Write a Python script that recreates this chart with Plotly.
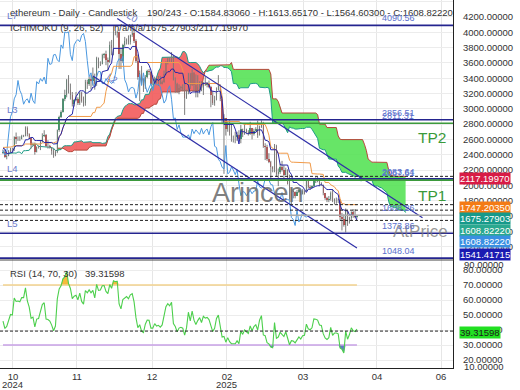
import numpy as np
import pandas as pd
import plotly.graph_objects as go

# ---------------- DATA ----------------
# Daily ETH candles. The first 48 rows (21 Aug - 7 Oct 2024) are history before the visible
# window; they only feed the Ichimoku / RSI look-back windows. Visible bars: 8 Oct 2024 - 15 Apr 2025.
aug_o = [2575, 2630, 2622, 2765, 2768, 2746, 2680, 2458, 2528, 2530, 2525]
aug_h = [2660, 2645, 2800, 2820, 2790, 2760, 2700, 2560, 2600, 2545, 2540]
aug_l = [2540, 2580, 2610, 2740, 2720, 2660, 2420, 2400, 2500, 2440, 2500]
aug_c = [2630, 2622, 2765, 2768, 2746, 2680, 2458, 2528, 2530, 2525, 2513]

sep_o = [2513, 2425, 2538, 2420, 2450, 2369, 2226, 2273, 2298, 2359, 2389, 2340, 2361, 2435, 2418,
         2316, 2296, 2340, 2375, 2465, 2560, 2612, 2581, 2646, 2653, 2580, 2632, 2696, 2678, 2658]
sep_h = [2520, 2550, 2555, 2490, 2465, 2410, 2310, 2320, 2380, 2400, 2390, 2380, 2460, 2440, 2430,
         2320, 2380, 2380, 2480, 2570, 2620, 2620, 2700, 2670, 2670, 2660, 2730, 2700, 2690, 2660]
sep_l = [2400, 2410, 2410, 2310, 2340, 2150, 2220, 2250, 2270, 2320, 2310, 2320, 2340, 2390, 2300,
         2260, 2270, 2280, 2370, 2440, 2540, 2540, 2570, 2590, 2560, 2560, 2620, 2650, 2630, 2580]
sep_c = [2425, 2538, 2420, 2450, 2369, 2226, 2273, 2298, 2359, 2389, 2340, 2361, 2435, 2418, 2316,
         2296, 2340, 2375, 2465, 2560, 2612, 2581, 2646, 2653, 2580, 2632, 2696, 2678, 2658, 2603]

oct_o = [2603, 2447, 2364, 2350, 2414, 2414, 2440, 2423, 2440, 2370, 2385, 2438, 2475, 2470, 2630, 2605,
         2610, 2605, 2645, 2645, 2750, 2665, 2620, 2525, 2535, 2440, 2505, 2510, 2570, 2640, 2660]
oct_h = [2640, 2500, 2400, 2440, 2430, 2450, 2520, 2470, 2470, 2420, 2460, 2490, 2490, 2640, 2690, 2640,
         2640, 2660, 2660, 2770, 2770, 2680, 2625, 2560, 2560, 2510, 2520, 2580, 2680, 2720, 2670]
oct_l = [2420, 2350, 2310, 2340, 2390, 2400, 2410, 2410, 2360, 2340, 2380, 2430, 2420, 2450, 2540, 2580,
         2580, 2600, 2630, 2640, 2640, 2600, 2480, 2510, 2400, 2430, 2480, 2460, 2560, 2630, 2500]
oct_c = [2447, 2364, 2350, 2414, 2414, 2440, 2423, 2440, 2370, 2385, 2438, 2475, 2470, 2630, 2605, 2610,
         2605, 2645, 2645, 2750, 2665, 2620, 2525, 2535, 2440, 2505, 2510, 2570, 2640, 2660, 2515]

nov_o = [2515, 2510, 2495, 2455, 2395, 2430, 2720, 2895, 2960, 3130, 3185, 3370, 3240, 3185, 3060,
         3110, 3130, 3075, 3205, 3105, 3070, 3355, 3325, 3395, 3360, 3415, 3325, 3660, 3580, 3590]
nov_h = [2590, 2530, 2500, 2480, 2460, 2730, 2910, 2980, 3140, 3250, 3390, 3440, 3330, 3220, 3130,
         3220, 3150, 3220, 3220, 3160, 3380, 3380, 3420, 3440, 3540, 3460, 3680, 3670, 3620, 3720]
nov_l = [2480, 2480, 2400, 2360, 2380, 2420, 2700, 2880, 2950, 3100, 3150, 3200, 3120, 3030, 3030,
         3100, 3050, 3050, 3080, 3030, 3040, 3260, 3300, 3250, 3300, 3250, 3300, 3530, 3560, 3580]
nov_c = [2510, 2495, 2455, 2395, 2430, 2720, 2895, 2960, 3130, 3185, 3370, 3240, 3185, 3060, 3110,
         3130, 3075, 3205, 3105, 3070, 3355, 3325, 3395, 3360, 3415, 3325, 3660, 3580, 3590, 3705]

dec_o = [3705, 3710, 3640, 3615, 3835, 3790, 4005, 3995, 4005, 3710, 3630, 3835, 3880, 3905, 3875, 3960,
         3985, 3880, 3630, 3420, 3470, 3320, 3290, 3420, 3490, 3485, 3330, 3330, 3395, 3350, 3360]
dec_h = [3730, 3760, 3670, 3880, 3900, 4080, 4020, 4020, 4010, 3800, 3850, 3940, 3920, 3960, 3970, 4110,
         4040, 3910, 3710, 3500, 3560, 3400, 3440, 3510, 3520, 3490, 3440, 3420, 3410, 3430, 3430]
dec_l = [3660, 3570, 3500, 3600, 3700, 3700, 3960, 3930, 3520, 3520, 3600, 3810, 3840, 3840, 3840, 3940,
         3860, 3600, 3380, 3100, 3310, 3220, 3260, 3400, 3440, 3310, 3310, 3320, 3330, 3300, 3320]
dec_c = [3710, 3640, 3615, 3835, 3790, 4005, 3995, 4005, 3710, 3630, 3835, 3880, 3905, 3875, 3960, 3985,
         3880, 3630, 3420, 3470, 3320, 3290, 3420, 3490, 3485, 3330, 3330, 3395, 3350, 3360, 3330]

jan_o = [3330, 3355, 3450, 3605, 3655, 3630, 3685, 3380, 3325, 3220, 3270, 3280, 3265, 3140, 3225, 3450,
         3305, 3470, 3305, 3215, 3280, 3330, 3240, 3340, 3310, 3320, 3285, 3180, 3075, 3115, 3250]
jan_h = [3370, 3500, 3620, 3670, 3670, 3740, 3700, 3410, 3340, 3320, 3300, 3320, 3340, 3250, 3470, 3470,
         3520, 3480, 3450, 3440, 3360, 3360, 3350, 3420, 3350, 3370, 3300, 3230, 3170, 3280, 3440]
jan_l = [3320, 3340, 3440, 3580, 3600, 3610, 3370, 3210, 3210, 3190, 3240, 3230, 2920, 3130, 3190, 3260,
         3300, 3230, 3150, 3150, 3200, 3230, 3180, 3300, 3280, 3270, 3020, 3050, 3040, 3110, 3240]
jan_c = [3355, 3450, 3605, 3655, 3630, 3685, 3380, 3325, 3220, 3270, 3280, 3265, 3140, 3225, 3450, 3305,
         3470, 3305, 3215, 3280, 3330, 3240, 3340, 3310, 3320, 3285, 3180, 3075, 3115, 3250, 3300]

feb_o = [3300, 3125, 2870, 2880, 2730, 2790, 2685, 2630, 2630, 2630, 2660, 2600, 2735, 2675,
         2725, 2695, 2665, 2745, 2670, 2715, 2735, 2660, 2765, 2820, 2510, 2495, 2340, 2310]
feb_h = [3320, 3160, 2930, 2880, 2830, 2850, 2800, 2650, 2700, 2700, 2720, 2790, 2740, 2800,
         2740, 2720, 2830, 2750, 2740, 2760, 2845, 2780, 2849.4, 2830, 2550, 2530, 2420, 2320]
feb_l = [3100, 2800, 2150, 2650, 2700, 2650, 2570, 2560, 2550, 2580, 2580, 2550, 2630, 2660,
         2680, 2650, 2660, 2600, 2650, 2700, 2620, 2650, 2750, 2490, 2330, 2320, 2290, 2080]
feb_c = [3125, 2870, 2880, 2730, 2790, 2685, 2630, 2630, 2630, 2660, 2600, 2735, 2675, 2725,
         2695, 2665, 2745, 2670, 2715, 2735, 2660, 2765, 2820, 2510, 2495, 2340, 2310, 2235]

mar_o = [2235, 2215, 2520, 2150, 2170, 2240, 2200, 2140, 2205, 2020, 1865, 1920, 1910, 1865, 1910, 1935,
         1890, 1925, 1930, 2055, 1980, 1965, 1985, 2085, 2080, 2070, 2010, 2005, 1895, 1830, 1805]
mar_h = [2250, 2540, 2530, 2220, 2280, 2320, 2260, 2230, 2210, 2140, 1960, 1960, 1920, 1940, 1950, 1940,
         1950, 1935, 2060, 2070, 2000, 2000, 2090, 2105, 2109.4, 2080, 2040, 2010, 1900, 1850, 1860]
mar_l = [2170, 2170, 2110, 1990, 2150, 2180, 2080, 2130, 2010, 1810, 1755, 1830, 1830, 1860, 1900, 1870,
         1880, 1880, 1920, 1960, 1940, 1960, 1980, 2030, 2040, 1990, 1990, 1870, 1810, 1780, 1780]
mar_c = [2215, 2520, 2150, 2170, 2240, 2200, 2140, 2205, 2020, 1865, 1920, 1910, 1865, 1910, 1935, 1890,
         1925, 1930, 2055, 1980, 1965, 1985, 2085, 2080, 2070, 2010, 2005, 1895, 1830, 1805, 1820]

apr_o = [1820, 1905, 1795, 1815, 1815, 1805, 1580, 1555, 1475, 1670, 1520, 1570, 1645, 1595, 1584.8306]
apr_h = [1920, 1950, 1830, 1840, 1830, 1821.7, 1640, 1620, 1697.8, 1670, 1590, 1660, 1690, 1690, 1613.6517]
apr_l = [1800, 1780, 1750, 1760, 1770, 1540, 1410, 1460, 1385.05, 1470, 1500, 1540, 1575, 1570, 1564.603]
apr_c = [1905, 1795, 1815, 1815, 1805, 1580, 1555, 1475, 1670, 1520, 1570, 1645, 1595, 1584.83, 1608.8222]

n_hidden = 48          # history rows before the first visible bar
shown_slots = 243      # "190/243"

# horizontal levels (navy) and targets (green)
level_names = ["L7", "L3", "L4", "L5", ""]
level_values = [4090.56, 2856.51, 2083.64, 1373.86, 1048.04]
target_names = ["TP2", "TP1"]
target_values = [2811.31, 2067.61]
price_tags = [4090.56, 2856.51, 2811.31, 2083.64, 2067.61, 1608.26, 1373.86, 1048.04]

# current indicator values (right-hand tags)
tag_values = [2117.19970, 1747.20350, 1675.27903, 1608.82220, 1608.82220, 1541.41715]
rsi_current = 39.31598

# channel lines: (bar index, price)
upper_channel_x = [61, 224]
upper_channel_y = [4180, 1575]
lower_channel_x = [48, 189]
lower_channel_y = [3429, 1180]

# x tick positions (bar index) and labels
tick_bars = [5.3, 39.5, 79.6, 119.6, 160.2, 199.7, 233.9]
tick_text = ["10", "11", "12", "02", "03", "04", "06"]
year_text = ["2024", "2025"]
year_bars = [5.3, 119.6]

# ---------------- BUILD ----------------
opens = np.array(aug_o + sep_o + oct_o + nov_o + dec_o + jan_o + feb_o + mar_o + apr_o, float)
highs = np.array(aug_h + sep_h + oct_h + nov_h + dec_h + jan_h + feb_h + mar_h + apr_h, float)
lows = np.array(aug_l + sep_l + oct_l + nov_l + dec_l + jan_l + feb_l + mar_l + apr_l, float)
closes = np.array(aug_c + sep_c + oct_c + nov_c + dec_c + jan_c + feb_c + mar_c + apr_c, float)

n = len(closes)
bar = np.arange(n) - n_hidden
H, L, C = pd.Series(highs), pd.Series(lows), pd.Series(closes)
tenkan = (H.rolling(9).max() + L.rolling(9).min()) / 2
kijun = (H.rolling(26).max() + L.rolling(26).min()) / 2
spanA = (tenkan + kijun) / 2
spanB = (H.rolling(52).max() + L.rolling(52).min()) / 2
disp = 26

delta = C.diff()
gain = delta.clip(lower=0)
loss = -delta.clip(upper=0)
ag = gain.ewm(alpha=1 / 14, adjust=False).mean()
al = loss.ewm(alpha=1 / 14, adjust=False).mean()
rsi = 100 - 100 / (1 + ag / al)

vis = bar >= 0
xb = bar[vis]
o_v, h_v, l_v, c_v = opens[vis], highs[vis], lows[vis], closes[vis]
r_v = rsi.values[vis]

FONT = "Liberation Sans, Arial, sans-serif"
W, HGT = 520, 390
PW, PH = 453, 368          # plot area size in px
SPLIT = 108 / PH           # rsi panel fraction
X0, X1 = -1.6, 240.3

def px(x):
    return x / PW

def py(y):
    return (PH - y) / PH

fig = go.Figure()

# --- Ichimoku cloud fills
xs = bar + disp
mask = (xs >= 0) & spanA.notna().values & spanB.notna().values
xa, a, b = xs[mask], spanA.values[mask], spanB.values[mask]
up = a >= b
start = 0
for k in range(1, len(xa) + 1):
    if k == len(xa) or up[k] != up[start]:
        end = min(k, len(xa) - 1)
        sx, sa, sb = xa[start:end + 1], a[start:end + 1], b[start:end + 1]
        fig.add_trace(go.Scatter(
            x=np.concatenate([sx, sx[::-1]]), y=np.concatenate([sa, sb[::-1]]),
            fill="toself", mode="lines", line=dict(width=0),
            fillcolor="rgba(241,86,86,0.88)" if up[start] else "rgba(86,226,86,0.9)",
            hoverinfo="skip"))
        start = k

mA = (xs >= 0) & spanA.notna().values
fig.add_trace(go.Scatter(x=xs[mA], y=spanA.values[mA], mode="lines",
                         line=dict(color="#1e9c86", width=1), hoverinfo="skip"))
mB = (xs >= 0) & spanB.notna().values
fig.add_trace(go.Scatter(x=xs[mB], y=spanB.values[mB], mode="lines",
                         line=dict(color="#b5473a", width=1), hoverinfo="skip"))

# --- candles: gray wicks + coloured bodies
wx, wy = [], []
for xi, lo, hi in zip(xb, l_v, h_v):
    wx += [xi, xi, None]
    wy += [lo, hi, None]
fig.add_trace(go.Scatter(x=wx, y=wy, mode="lines", line=dict(color="#7d7d7d", width=1),
                         hoverinfo="skip"))
fig.add_trace(go.Bar(x=xb, y=np.abs(c_v - o_v), base=np.minimum(o_v, c_v), width=0.75,
                     marker=dict(color=np.where(c_v >= o_v, "#23a066", "#e0393a"), line=dict(width=0)),
                     hoverinfo="skip"))

# --- chikou, kijun, tenkan
xc = bar - disp
mc = xc >= 0
fig.add_trace(go.Scatter(x=xc[mc], y=closes[mc], mode="lines",
                         line=dict(color="#4a98e0", width=1), hoverinfo="skip"))
fig.add_trace(go.Scatter(x=xb, y=kijun.values[vis], mode="lines",
                         line=dict(color="#f19a48", width=1), hoverinfo="skip"))
fig.add_trace(go.Scatter(x=xb, y=tenkan.values[vis], mode="lines",
                         line=dict(color="#2424a8", width=1), hoverinfo="skip"))

# --- channel lines
for cx, cy in [(upper_channel_x, upper_channel_y), (lower_channel_x, lower_channel_y)]:
    fig.add_trace(go.Scatter(x=cx, y=cy, mode="lines", line=dict(color="#2f2fa8", width=1.2),
                             hoverinfo="skip"))

# --- RSI panel
fig.add_trace(go.Scatter(x=xb, y=np.full(len(xb), 70.0), yaxis="y2", mode="lines",
                         line=dict(width=0), hoverinfo="skip"))
fig.add_trace(go.Scatter(x=xb, y=np.maximum(r_v, 70), yaxis="y2", mode="lines", fill="tonexty",
                         fillcolor="rgba(245,182,50,0.95)", line=dict(width=0), hoverinfo="skip"))
fig.add_trace(go.Scatter(x=xb, y=np.full(len(xb), 30.0), yaxis="y2", mode="lines",
                         line=dict(width=0), hoverinfo="skip"))
fig.add_trace(go.Scatter(x=xb, y=np.minimum(r_v, 30), yaxis="y2", mode="lines", fill="tonexty",
                         fillcolor="rgba(80,110,190,0.9)", line=dict(width=0), hoverinfo="skip"))
fig.add_trace(go.Scatter(x=xb, y=np.full(len(xb), 70.0), yaxis="y2", mode="lines",
                         line=dict(color="#f2d28e", width=1.5), hoverinfo="skip"))
fig.add_trace(go.Scatter(x=xb, y=np.full(len(xb), 30.0), yaxis="y2", mode="lines",
                         line=dict(color="#c7a0e6", width=1.5), hoverinfo="skip"))
fig.add_trace(go.Scatter(x=xb, y=r_v, yaxis="y2", mode="lines",
                         line=dict(color="#4ccf4c", width=1.1), hoverinfo="skip"))

# ---------------- SHAPES ----------------
shapes = []
for v in level_values:
    shapes.append(dict(type="line", xref="paper", x0=0, x1=1, yref="y", y0=v, y1=v,
                       line=dict(color="#24248f", width=1.6)))
for v in target_values:
    shapes.append(dict(type="line", xref="paper", x0=0, x1=1, yref="y", y0=v, y1=v,
                       line=dict(color="#3c9a3c", width=1.6)))
for v in [tag_values[0], tag_values[1], tag_values[2], tag_values[5]]:
    shapes.append(dict(type="line", xref="paper", x0=0, x1=1, yref="y", y0=v, y1=v,
                       line=dict(color="#222", width=1, dash="3px,2px")))
shapes.append(dict(type="line", xref="paper", x0=0, x1=1, yref="y", y0=tag_values[3], y1=tag_values[3],
                   line=dict(color="#a8a8a8", width=1.6)))
shapes.append(dict(type="line", xref="paper", x0=0, x1=1, yref="y2", y0=rsi_current, y1=rsi_current,
                   line=dict(color="#222", width=1, dash="3px,2px")))
shapes.append(dict(type="line", xref="paper", x0=0, x1=1, yref="paper", y0=SPLIT, y1=SPLIT,
                   line=dict(color="#444", width=1.2)))

# ---------------- ANNOTATIONS ----------------
ann = []
def txt(x, y, s, size=9.5, color="#333", anchor="left", **kw):
    d = dict(xref="paper", yref="paper", x=px(x), y=py(y), text=s, showarrow=False,
             xanchor=anchor, yanchor="middle", font=dict(family=FONT, size=size, color=color))
    d.update(kw)
    ann.append(d)

txt(8, 12, "ethereum - Daily - Candlestick")
txt(145, 12, "%d/%d - O:%.5f - H:%.5f - L:%.5f - C:%.5f" %
    (len(xb), shown_slots, o_v[-1], h_v[-1], l_v[-1], c_v[-1]))
txt(8, 27, "ICHIMOKU (9, 26, 52)")
txt(112, 27, "n/a/n/a/%.5f/%.5f" % (tag_values[2], tag_values[0]))
txt(8, 273, "RSI (14, 70, 30)")
txt(83, 273, "%.5f" % rsi_current)

# watermarks / targets
txt(258, 193, "Arincen", size=27, color="rgba(105,105,105,0.85)", anchor="center")
txt(420, 231, "AtPrice", size=17, color="rgba(125,125,125,0.8)", anchor="center")
for name, yy in zip(target_names, [137, 196]):
    txt(432, yy, name, size=15.5, color="#3a9a3a", anchor="center")

# level names (left) and level prices
for name, v in zip(level_names, level_values):
    if name:
        ann.append(dict(xref="paper", yref="y", x=px(5), y=v, yshift=10, text=name, showarrow=False,
                        xanchor="left", yanchor="middle",
                        font=dict(family=FONT, size=9.5, color="#6c7ccc")))
for v in price_tags:
    ann.append(dict(xref="paper", yref="y", x=px(380), y=v, yshift=7, text="%.2f" % v, showarrow=False,
                    xanchor="left", yanchor="middle",
                    font=dict(family=FONT, size=9, color="#5a70cc")))
# channel labels
ann.append(dict(xref="x", yref="y", x=69.4, y=4195, text="L0", showarrow=False, textangle=33,
                font=dict(family=FONT, size=9.5, color="#6c7ccc")))
ann.append(dict(xref="x", yref="y", x=58.7, y=3400, text="L2", showarrow=False, textangle=33,
                font=dict(family=FONT, size=9.5, color="#6c7ccc")))

# right-hand value tags
tag_colors = ["#d81b45", "#f47b16", "#16998a", "#2aa88f", "#3a8fe2", "#1a1ab2"]
tag_pos = [178, 207, 219, 230.5, 242, 254.5]
for v, col, yy in zip(tag_values, tag_colors, tag_pos):
    txt(459, yy, "%.5f" % v, color="white", bgcolor=col, borderpad=0)
txt(459, 332, "%.5f" % rsi_current, color="#1b1b1b", bgcolor="#22e022", borderpad=0)
txt(462, 264, "90.00000")
txt(462, 366, "10.00000")

# year labels under the first tick of each year
for yt, yb in zip(year_text, year_bars):
    txt((yb - X0) / (X1 - X0) * PW, 384, yt, size=9.5, anchor="center")

# ---------------- LAYOUT ----------------
axis_font = dict(family=FONT, size=9.5, color="#333")
fig.update_layout(
    width=W, height=HGT, margin=dict(l=0, r=W - PW, t=0, b=HGT - PH, autoexpand=False),
    paper_bgcolor="white", plot_bgcolor="white", showlegend=False, hovermode=False,
    xaxis=dict(domain=[0, 1], range=[X0, X1], anchor="y2", tickvals=tick_bars, ticktext=tick_text,
               showgrid=True, gridcolor="#e6e6e6", zeroline=False, showline=True, linecolor="#222",
               ticks="", automargin=False, tickfont=dict(family=FONT, size=9.5, color="#333")),
    yaxis=dict(domain=[SPLIT, 1], range=[1024, 4422], side="right", anchor="x", tick0=0, dtick=200,
               tickformat=".5f", showgrid=True, gridcolor="#ececec", zeroline=False,
               showline=True, linecolor="#222", ticks="outside", ticklen=7, automargin=False,
               tickcolor="rgba(0,0,0,0)", tickfont=axis_font),
    yaxis2=dict(domain=[0, SPLIT], range=[14.7, 86.7], side="right", anchor="x",
                tickvals=[20, 30, 40, 50, 60, 70, 80], tickformat=".5f", showgrid=True,
                gridcolor="#ececec", zeroline=False, showline=True, linecolor="#222", automargin=False,
                ticks="outside", ticklen=7, tickcolor="rgba(0,0,0,0)", tickfont=axis_font),
    shapes=shapes, annotations=ann, bargap=0,
)

fig.write_html("out.html", config={"displayModeBar": False, "staticPlot": True},
               post_script="document.body.style.margin='0px';")
